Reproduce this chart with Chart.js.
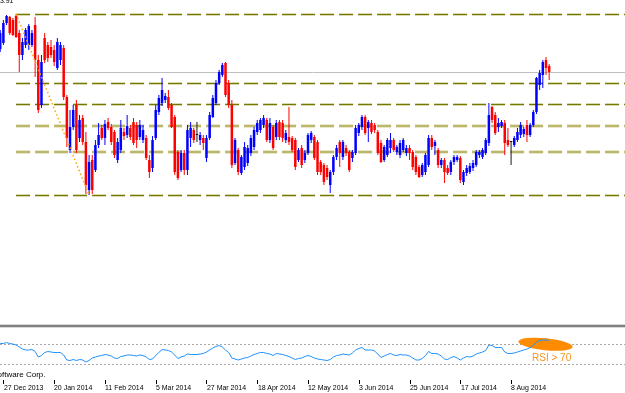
<!DOCTYPE html>
<html>
<head>
<meta charset="utf-8">
<title>USDJPY Daily</title>
<script src="https://cdn.jsdelivr.net/npm/chart.js@4.4.1/dist/chart.umd.min.js"></script>
<style>
html,body{margin:0;padding:0;background:#fff;}
#wrap{position:relative;width:625px;height:393px;overflow:hidden;background:#fff;}
#wrap canvas{position:absolute;left:0;}
.t{position:absolute;font-family:"Liberation Sans",Arial,sans-serif;font-size:8px;line-height:8px;color:#000;white-space:nowrap;}
.sx{transform:scaleX(0.87);transform-origin:0 0;}
</style>
</head>
<body>
<div id="wrap">
  <canvas id="main" width="625" height="325" style="top:0;width:625px;height:325px"></canvas>
  <div style="position:absolute;left:0;top:324px;width:625px;height:1px;background:#d8d8d8"></div>
  <div style="position:absolute;left:0;top:325px;width:625px;height:2px;background:#808080"></div>
  <div style="position:absolute;left:0;top:327px;width:625px;height:1px;background:#d8d8d8"></div>
  <canvas id="rsi" width="625" height="65" style="top:328px;width:625px;height:65px"></canvas>
</div>
<script>
// ---- daily candles (first bar = 26 Dec 2013) ----
const opens = [
104.575,104.725,105.225,105.375,105.3,105.4,104.975,104.425,104.675,104.675,
104.675,105.175,104.3,103.175,104.85,104.675,104.625,104.55,104.1,104.3,
104.6,103.375,102.05,102.625,103.175,102.35,102.85,102.25,101.05,101.8,
101.55,102.175,102.6,102.35,102.75,102.625,102.5,101.8,102.05,102.5,
102.425,102.6,102.75,102.675,102.375,102.3,102.35,101.8,101.6,102.35,
103.0,103.225,103.3,103.375,103.175,102.875,102.0,101.55,101.975,101.55,
102.35,102.55,102.425,102.3,102.35,101.85,102.35,102.875,103.225,103.725,
103.925,104.225,103.725,103.175,101.725,102.05,101.475,101.625,101.725,101.975,
102.125,102.5,102.55,102.675,102.8,102.3,102.625,102.375,102.75,102.725,
102.3,102.375,102.35,102.3,101.8,102.1,101.8,101.975,102.3,102.375,
102.25,101.75,101.675,101.6,101.175,101.5,101.875,102.25,101.875,102.1,
102.0,101.85,101.975,102.475,102.625,102.875,102.6,102.725,102.675,102.5,
102.225,101.8,101.925,102.1,102.3,102.0,101.925,102.05,101.975,102.1,
102.0,101.875,101.625,101.425,101.5,101.675,102.35,102.15,102.05,101.675,
101.8,101.6,101.5,101.75,101.8,101.85,101.25,101.475,101.5,101.6,
101.675,101.925,101.875,101.975,102.225,103.125,102.925,102.625,102.65,102.725,
102.3,102.25,102.175,102.3,102.425,102.45,102.675,102.425,102.675,103.0,
103.675,103.925,104.3,104.15];
const highs = [
105.05,105.3,105.425,105.4,105.35,105.45,105.05,104.85,105.1,105.2,
105.05,105.375,104.425,104.425,104.975,104.75,104.8,104.675,104.85,104.75,
104.675,103.425,103.05,103.175,103.3,102.925,102.925,102.5,101.925,101.925,
102.3,102.725,102.675,102.8,102.85,102.7,102.55,102.35,102.8,102.6,
102.925,102.675,102.85,102.75,102.8,102.675,102.425,101.925,102.4,103.175,
103.425,103.85,103.475,103.55,103.225,102.925,102.05,102.05,102.05,102.675,
102.75,102.6,102.75,102.5,102.425,102.425,103.0,103.425,103.8,104.05,
104.225,104.25,103.8,103.3,102.35,102.1,101.925,102.25,102.175,102.425,
102.625,102.8,102.85,102.925,102.85,102.85,102.675,102.8,102.8,102.8,
102.55,103.125,102.4,102.35,102.1,102.175,102.05,102.475,102.525,102.425,
102.3,101.8,101.725,101.675,101.55,101.925,102.175,102.3,102.3,102.175,
102.05,102.05,102.675,102.725,102.925,102.925,102.8,102.8,102.725,102.55,
102.3,102.175,102.35,102.475,102.35,102.175,102.3,102.35,102.175,102.175,
102.05,101.925,101.675,101.725,101.975,102.425,102.425,102.3,102.1,101.85,
101.85,101.675,101.8,101.925,101.925,101.9,101.55,101.675,101.725,101.8,
102.05,102.05,102.1,102.35,103.225,103.15,103.0,102.85,102.8,102.8,
102.6,102.275,102.4,102.6,102.75,102.625,102.8,102.725,103.05,103.875,
104.05,104.3,104.375,104.2];
const lows = [
104.5,104.675,105.175,104.925,104.9,104.85,104.0,104.3,104.6,104.55,
104.625,103.875,102.975,103.1,104.225,104.25,104.35,104.15,104.05,104.175,
103.3,102.125,101.975,102.55,101.975,102.25,102.175,100.95,100.925,100.95,
101.5,102.1,102.3,102.175,102.55,102.175,101.85,101.725,101.975,102.3,
102.35,102.3,102.175,102.1,102.3,102.225,101.8,101.35,101.5,102.3,
102.925,103.15,103.225,103.05,102.6,101.425,101.3,101.5,101.425,101.425,
102.125,102.225,102.25,102.175,102.05,101.75,102.3,102.85,103.175,103.675,
103.875,103.375,103.1,101.6,101.675,101.425,101.425,101.55,101.65,101.9,
102.05,102.425,102.475,102.6,102.25,102.225,102.05,102.3,102.3,102.25,
102.225,102.175,102.0,101.55,101.75,101.6,101.725,101.925,102.225,101.8,
101.425,101.425,101.175,101.3,100.975,101.425,101.8,101.625,101.8,101.9,
101.5,101.75,101.925,102.4,102.55,102.425,102.25,102.45,102.475,101.925,
101.725,101.75,101.875,101.975,102.0,101.925,101.85,102.0,101.9,101.8,
101.55,101.425,101.35,101.375,101.425,101.625,102.05,101.925,101.6,101.6,
101.225,101.425,101.425,101.675,101.75,101.225,101.175,101.4,101.45,101.525,
101.625,101.85,101.825,101.925,102.15,102.725,102.425,102.5,102.6,101.925,
102.125,101.675,102.125,102.25,102.35,102.375,102.25,102.375,102.625,102.95,
103.55,103.6,103.925,103.8];
const closes = [
104.975,105.225,105.4,104.975,104.925,104.875,104.425,104.75,105.05,105.15,
104.975,104.3,103.05,104.25,104.3,104.35,104.425,104.25,104.75,104.675,
103.375,102.35,102.625,103.05,102.05,102.8,102.25,101.175,101.75,101.05,
102.175,102.425,102.35,102.7,102.6,102.25,101.925,102.25,102.6,102.4,
102.65,102.375,102.225,102.3,102.675,102.55,101.85,101.5,102.3,103.05,
103.35,103.55,103.4,103.1,102.625,101.5,101.35,101.975,101.55,102.55,
102.6,102.3,102.425,102.425,102.225,102.35,102.925,103.35,103.725,104.0,
104.175,103.425,103.175,101.675,102.3,101.5,101.875,102.125,102.1,102.35,
102.55,102.725,102.8,102.85,102.3,102.725,102.1,102.725,102.375,102.35,
102.475,102.25,102.05,101.625,102.05,101.675,101.975,102.425,102.475,101.85,
101.5,101.5,101.25,101.375,101.5,101.875,102.1,101.975,102.25,101.975,
101.55,102.0,102.6,102.675,102.875,102.475,102.75,102.5,102.55,101.975,
101.75,102.125,102.3,102.3,102.05,102.125,102.225,102.3,102.1,101.975,
101.625,101.5,101.375,101.675,101.925,102.35,102.125,102.25,101.675,101.8,
101.5,101.475,101.75,101.875,101.875,101.3,101.5,101.6,101.65,101.725,
102.0,102.0,102.05,102.3,102.925,102.8,102.475,102.725,102.75,102.225,
102.175,102.25,102.35,102.5,102.675,102.575,102.425,102.675,103.0,103.85,
103.975,104.25,104.1,104.0];
// ---- RSI per bar ----
const rsiValues = [
71,71,73,71,70,68,64,60,58,58,
59,55,44,47,53,55,54,53,53,53,
48,38,37,39,37,39,38,34,37,42,
44,46,47,49,48,46,42,41,45,46,
48,48,47,46,48,47,44,39,40,47,
53,59,58,57,54,48,41,44,46,50,
49,49,49,50,51,54,58,62,65,67,
64,58,53,42,40,38,40,42,43,46,
49,51,53,53,51,50,47,51,50,49,
47,45,42,39,41,42,45,47,45,42,
40,39,38,37,39,44,47,48,50,49,
48,52,58,61,63,58,58,58,56,50,
43,46,49,51,48,47,49,48,48,46,
42,38,38,41,47,55,51,51,50,46,
40,39,43,45,42,38,42,45,44,46,
50,52,54,57,68,67,63,63,63,54,
51,51,52,54,56,58,60,63,67,74,
77,78,78,77];
// ---- time axis labels ----
const tickIdx = [1,17,33,49,65,81,97,113,129,145,161];
const tickLabels = ['27 Dec 2013','20 Jan 2014','11 Feb 2014','5 Mar 2014','27 Mar 2014','18 Apr 2014','12 May 2014','3 Jun 2014','25 Jun 2014','17 Jul 2014','8 Aug 2014'];
// ---- objects ----
const fibHigh = 105.45, fibLow = 100.925;
const fibFrom = 5, fibTo = 28;
const fibLevels = [0, 0.382, 0.5, 0.618, 0.764, 1];
const rsiLevels = [70, 30];
const ellipseFrom = {x: 163.3, y: 75}, ellipseTo = {x: 180.4, y: 64};
const ellipseRatio = 0.22;
const rsiNote = {x: 167.6, y: 36, text: 'RSI > 70'};
const headerText = '103.91';
const copyrightText = 'MetaQuotes Software Corp.';
// view window (bars shown incl. right shift)
const viewMin = -0.07, viewMax = 196.9;
const priceMin = 97.675, priceMax = 105.8;

const UP = '#0000FF', DOWN = '#FF0000', DOJI = '#1a1a1a';
function candleColor(c) {
  const j = c.dataIndex;
  if (j === undefined) return UP;
  const o = opens[j], cl = closes[j];
  return cl > o ? UP : (cl < o ? DOWN : DOJI);
}

const mainOverlay = {
  id: 'mainOverlay',
  beforeDatasetsDraw(chart) {
    const {ctx, scales: {x, y}, width} = chart;
    ctx.save();
    // bid line
    const by = Math.round(y.getPixelForValue(closes[closes.length - 1])) + 0.5;
    ctx.strokeStyle = '#c0c0c0'; ctx.lineWidth = 1; ctx.setLineDash([]);
    ctx.beginPath(); ctx.moveTo(0, by); ctx.lineTo(width, by); ctx.stroke();
    // fibonacci levels
    const xs = x.getPixelForValue(fibFrom);
    fibLevels.forEach(lv => {
      const py = Math.round(y.getPixelForValue(fibHigh - lv * (fibHigh - fibLow)));
      const light = lv > 0.6 && lv < 0.8;
      ctx.setLineDash([14, 5]);
      if (light) {
        ctx.strokeStyle = 'rgba(189,183,107,0.35)'; ctx.lineWidth = 4;
        ctx.beginPath(); ctx.moveTo(xs, py); ctx.lineTo(width, py); ctx.stroke();
        ctx.strokeStyle = 'rgb(189,183,107)'; ctx.lineWidth = 2;
        ctx.beginPath(); ctx.moveTo(xs, py); ctx.lineTo(width, py); ctx.stroke();
      } else {
        ctx.strokeStyle = 'rgba(128,128,0,0.3)'; ctx.lineWidth = 3;
        ctx.beginPath(); ctx.moveTo(xs, py + 0.5); ctx.lineTo(width, py + 0.5); ctx.stroke();
        ctx.strokeStyle = 'rgb(118,118,0)'; ctx.lineWidth = 1;
        ctx.beginPath(); ctx.moveTo(xs, py + 0.5); ctx.lineTo(width, py + 0.5); ctx.stroke();
      }
    });
    ctx.restore();
  },
  afterDatasetsDraw(chart) {
    const {ctx, scales: {x, y}} = chart;
    ctx.save();
    ctx.strokeStyle = '#FFA500'; ctx.lineWidth = 1.5; ctx.setLineDash([1.5, 2.5]);
    ctx.beginPath();
    ctx.moveTo(x.getPixelForValue(fibFrom), y.getPixelForValue(fibHigh));
    ctx.lineTo(x.getPixelForValue(fibTo), y.getPixelForValue(fibLow));
    ctx.stroke();
    ctx.restore();
  }
};

const rsiOverlay = {
  id: 'rsiOverlay',
  beforeDatasetsDraw(chart) {
    const {ctx, scales: {x, y}, width} = chart;
    ctx.save();
    ctx.strokeStyle = '#a8a8a8'; ctx.lineWidth = 1; ctx.setLineDash([2, 2]);
    rsiLevels.forEach(v => {
      const py = Math.round(y.getPixelForValue(v)) + 0.5;
      ctx.beginPath(); ctx.moveTo(0, py); ctx.lineTo(width, py); ctx.stroke();
    });
    ctx.setLineDash([]);
    const x1 = x.getPixelForValue(ellipseFrom.x), y1 = y.getPixelForValue(ellipseFrom.y);
    const x2 = x.getPixelForValue(ellipseTo.x), y2 = y.getPixelForValue(ellipseTo.y);
    const rx = Math.hypot(x2 - x1, y2 - y1) / 2;
    ctx.fillStyle = '#FF8C00';
    ctx.beginPath();
    ctx.ellipse((x1 + x2) / 2, (y1 + y2) / 2, rx, rx * ellipseRatio, Math.atan2(y2 - y1, x2 - x1), 0, Math.PI * 2);
    ctx.fill();
    ctx.restore();
  },
  afterDraw(chart) {
    const {ctx, scales: {x}, chartArea} = chart;
    ctx.save();
    ctx.strokeStyle = '#000'; ctx.lineWidth = 1;
    tickIdx.forEach(j => {
      const px = Math.round(x.getPixelForValue(j)) + 0.5;
      ctx.beginPath(); ctx.moveTo(px, chartArea.bottom); ctx.lineTo(px, chartArea.bottom + 4); ctx.stroke();
    });
    ctx.restore();
  }
};

const idx = opens.map((_, j) => j);

const mainChart = new Chart(document.getElementById('main'), {
  type: 'bar',
  data: {
    datasets: [
      { label: 'Range', data: idx.map(j => ({x: j, y: [lows[j], highs[j]]})),
        backgroundColor: candleColor, barThickness: 1, grouped: false, inflateAmount: 0, borderWidth: 0, order: 1 },
      { label: 'Body', data: idx.map(j => ({x: j, y: [opens[j], closes[j]]})),
        backgroundColor: candleColor, barThickness: 2.5, minBarLength: 1, grouped: false, inflateAmount: 0, borderWidth: 0, order: 0 }
    ]
  },
  options: {
    responsive: false, animation: false, devicePixelRatio: 1, events: [],
    layout: {padding: 0},
    plugins: {legend: {display: false}, tooltip: {enabled: false}},
    scales: {
      x: {type: 'linear', min: viewMin, max: viewMax, display: false, offset: false, grid: {offset: false}},
      y: {type: 'linear', min: priceMin, max: priceMax, display: false}
    }
  },
  plugins: [mainOverlay]
});

const rsiChart = new Chart(document.getElementById('rsi'), {
  type: 'line',
  data: {
    datasets: [{ label: 'RSI', data: idx.map(j => ({x: j, y: rsiValues[j]})),
      borderColor: '#1E90FF', borderWidth: 1, pointRadius: 0, tension: 0, fill: false }]
  },
  options: {
    responsive: false, animation: false, devicePixelRatio: 1, events: [],
    layout: {padding: {left: 0, right: 0, top: 0, bottom: 13}},
    plugins: {legend: {display: false}, tooltip: {enabled: false}},
    scales: {
      x: {type: 'linear', min: viewMin, max: viewMax, display: false, offset: false},
      y: {type: 'linear', min: -2, max: 102, display: false}
    }
  },
  plugins: [rsiOverlay]
});

// ---- texts ----
const wrap = document.getElementById('wrap');
const RSI_TOP = 328;
function addText(txt, css, cls) {
  const d = document.createElement('div');
  d.className = 't' + (cls ? ' ' + cls : '');
  d.textContent = txt;
  Object.assign(d.style, css);
  wrap.appendChild(d);
  return d;
}
const rx = rsiChart.scales.x, ry = rsiChart.scales.y;
tickIdx.forEach((j, k) => {
  addText(tickLabels[k], {left: (rx.getPixelForValue(j) + 0.3) + 'px', top: '384px'}, 'sx');
});
addText(headerText, {right: (625 - 13.3) + 'px', top: '-3.3px', transform: 'scaleX(0.87)', transformOrigin: '100% 0'});
addText(copyrightText, {right: (625 - 45.5) + 'px', top: '370.8px'});
addText(rsiNote.text, {
  left: rx.getPixelForValue(rsiNote.x) + 'px',
  top: (RSI_TOP + ry.getPixelForValue(rsiNote.y) - 8.5) + 'px',
  fontSize: '10px', lineHeight: '10px', color: '#F7941D'
});
</script>
</body>
</html>
